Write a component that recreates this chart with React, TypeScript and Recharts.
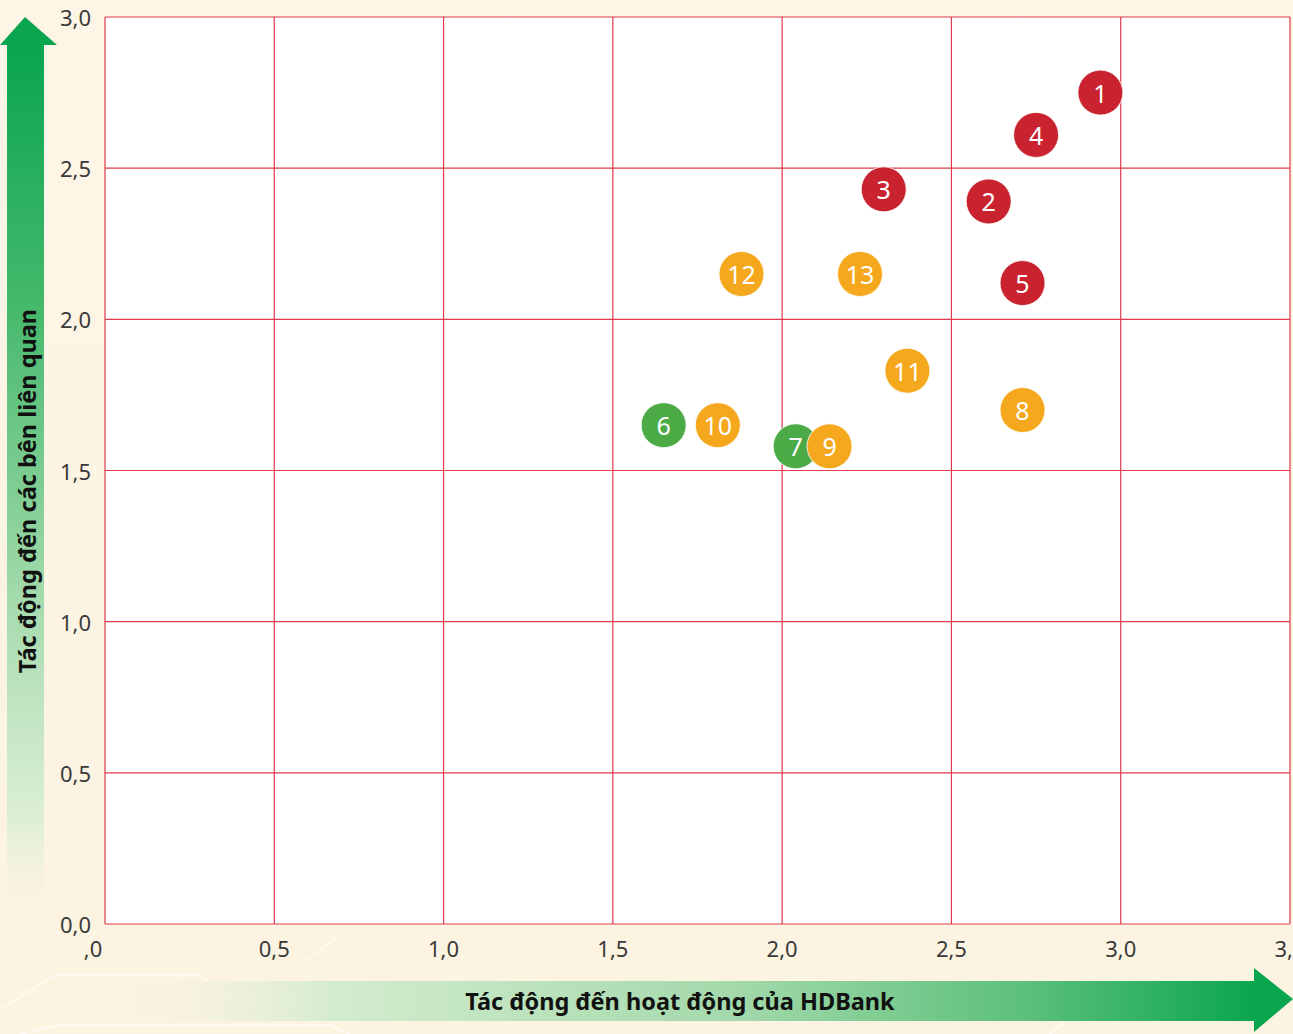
import { ScatterChart, Scatter, XAxis, YAxis, CartesianGrid } from 'recharts';

// impact matrix: each numbered topic, x = impact on HDBank, y = impact on stakeholders
const topicIds = [1, 2, 3, 4, 5, 6, 7, 8, 9, 10, 11, 12, 13];
const impactOnBank = [2.94, 2.61, 2.3, 2.75, 2.71, 1.65, 2.04, 2.71, 2.14, 1.81, 2.37, 1.88, 2.23];
const impactOnStakeholders = [2.75, 2.39, 2.43, 2.61, 2.12, 1.65, 1.58, 1.7, 1.58, 1.65, 1.83, 2.15, 2.15];
const topicLevels = ['high', 'high', 'high', 'high', 'high', 'low', 'low', 'medium', 'medium', 'medium', 'medium', 'medium', 'medium'];

const xTicks = [0, 0.5, 1, 1.5, 2, 2.5, 3, 3.5];
const xTickLabels = [',0', '0,5', '1,0', '1,5', '2,0', '2,5', '3,0', '3,5'];
const yTicks = [0, 0.5, 1, 1.5, 2, 2.5, 3];
const yTickLabels = ['0,0', '0,5', '1,0', '1,5', '2,0', '2,5', '3,0'];

const xTitle = 'Tác động đến hoạt động của HDBank';
const yTitle = 'Tác động đến các bên liên quan';

const levelColors: Record<string, string> = {
  high: '#c8232f',
  medium: '#f5a71d',
  low: '#4caa47',
};

const FONT = '"Noto Sans", "Open Sans", sans-serif';
const GRID = '#e03a4b';

const data = topicIds.map((id, i) => ({
  id,
  x: impactOnBank[i],
  y: impactOnStakeholders[i],
  level: topicLevels[i],
}));

function Bubble(props: any) {
  const { cx, cy, payload } = props;
  if (cx == null || cy == null) return null;
  return (
    <g>
      <circle cx={cx} cy={cy} r={22.5} fill={levelColors[payload.level]} stroke="#fff" strokeWidth={0.8} />
      <text
        x={cx}
        y={cy}
        textAnchor="middle"
        dominantBaseline="central"
        fill="#fff"
        fontSize={25}
        fontFamily={FONT}
      >
        {payload.id}
      </text>
    </g>
  );
}

function XTick(props: any) {
  const { x, y, payload, index } = props;
  const label = xTickLabels[xTicks.indexOf(payload.value)] ?? '';
  return (
    <text
      x={index === 0 ? x - 12 : x}
      y={y + 16}
      textAnchor="middle"
      dominantBaseline="central"
      fill="#3a3a3a"
      fontSize={22}
      fontFamily={FONT}
    >
      {label}
    </text>
  );
}

function YTick(props: any) {
  const { y, payload } = props;
  const label = yTickLabels[yTicks.indexOf(payload.value)] ?? '';
  return (
    <text x={91} y={y} textAnchor="end" dominantBaseline="central" fill="#3a3a3a" fontSize={22} fontFamily={FONT}>
      {label}
    </text>
  );
}

export default function App() {
  return (
    <div
      style={{
        position: 'absolute',
        left: 0,
        top: 0,
        width: 1293,
        height: 1034,
        overflow: 'hidden',
        background: 'linear-gradient(180deg, #fdf5e6 0%, #fcf3e1 100%)',
      }}
    >
      <svg width={1293} height={1034} style={{ position: 'absolute', left: 0, top: 0 }}>
        <defs>
          <linearGradient id="vArrow" x1="0" y1="0" x2="0" y2="1">
            <stop offset="0%" stopColor="#0aa54f" />
            <stop offset="30%" stopColor="#45b96c" />
            <stop offset="65%" stopColor="#a9dcb0" />
            <stop offset="88%" stopColor="#dcefd6" />
            <stop offset="100%" stopColor="#fcf3e1" stopOpacity={0} />
          </linearGradient>
          <linearGradient id="hArrow" x1="0" y1="0" x2="1" y2="0">
            <stop offset="0%" stopColor="#fcf3e1" stopOpacity={0} />
            <stop offset="20%" stopColor="#d4ecce" />
            <stop offset="55%" stopColor="#a3d9ab" />
            <stop offset="80%" stopColor="#5cc07b" />
            <stop offset="100%" stopColor="#0aa54f" />
          </linearGradient>
        </defs>
        {/* faint decorative lines */}
        <g stroke="#ffffff" strokeOpacity={0.6} strokeWidth={2} fill="none">
          <polyline points="0,1010 55,975 200,975 230,1000 560,1000" />
          <polyline points="20,1034 60,1025 330,1025 350,1034" />
          <polyline points="300,965 340,935" />
          <polyline points="1050,1034 1090,1000 1200,1000" />
        </g>
        <rect x={7} y={44} width={37} height={880} fill="url(#vArrow)" />
        <polygon points="0,45 25,17 57,45" fill="#0aa54f" />
        <rect x={100} y={981} width={1156} height={40} fill="url(#hArrow)" />
        <polygon points="1254,968 1293,999 1254,1032" fill="#0aa54f" />
        <text
          x={680}
          y={1001}
          textAnchor="middle"
          dominantBaseline="central"
          fontSize={23.5}
          fontWeight={700}
          fontFamily={FONT}
          fill="#111"
        >
          {xTitle}
        </text>
        <text
          x={27}
          y={491}
          transform="rotate(-90 27 491)"
          textAnchor="middle"
          dominantBaseline="central"
          fontSize={23.5}
          fontWeight={700}
          fontFamily={FONT}
          fill="#111"
        >
          {yTitle}
        </text>
      </svg>
      <div style={{ position: 'absolute', left: 0, top: 0 }}>
        <ScatterChart width={1293} height={1034} margin={{ top: 17, right: 3, bottom: 0, left: 0 }}>
          <CartesianGrid stroke={GRID} strokeWidth={1.2} fill="#ffffff" fillOpacity={1} />
          <XAxis
            type="number"
            dataKey="x"
            domain={[0, 3.5]}
            ticks={xTicks}
            interval={0}
            height={110}
            axisLine={false}
            tickLine={false}
            tick={<XTick />}
          />
          <YAxis
            type="number"
            dataKey="y"
            domain={[0, 3]}
            ticks={yTicks}
            interval={0}
            width={105}
            axisLine={false}
            tickLine={false}
            tick={<YTick />}
          />
          <Scatter data={data} shape={<Bubble />} isAnimationActive={false} />
        </ScatterChart>
      </div>
    </div>
  );
}
